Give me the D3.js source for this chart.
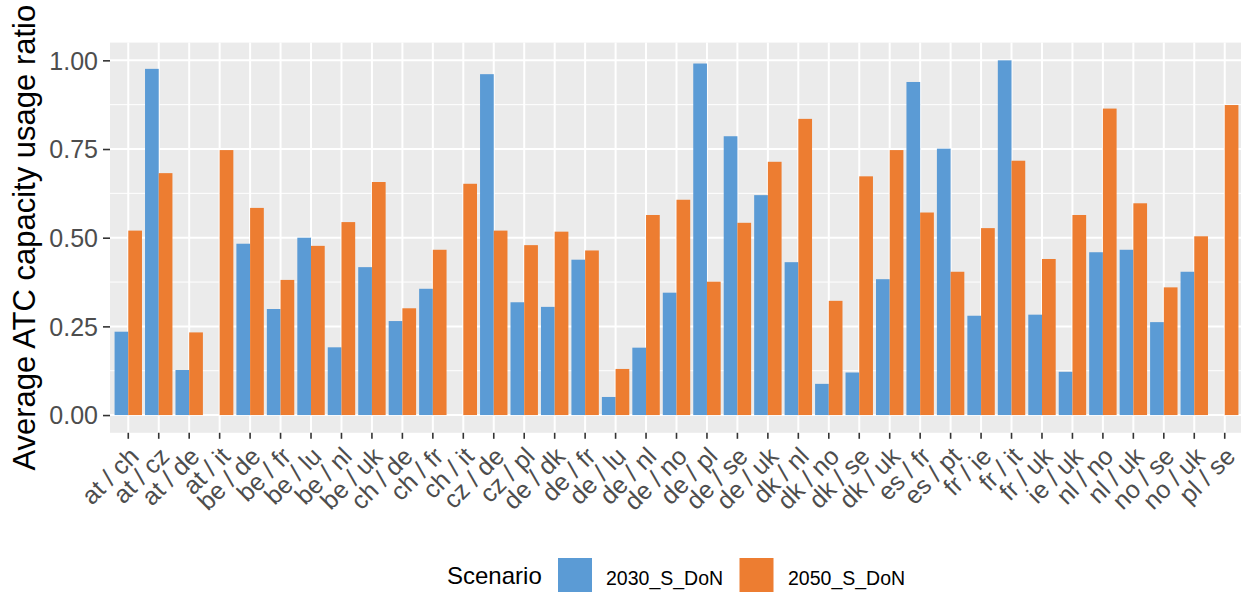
<!DOCTYPE html>
<html>
<head>
<meta charset="utf-8">
<script src="https://cdn.jsdelivr.net/npm/d3@7"></script>
<style>
  html, body { margin: 0; padding: 0; background: #ffffff; }
  svg { display: block; font-family: "Liberation Sans", Arial, Helvetica, sans-serif; }
</style>
</head>
<body>
<svg id="chart" width="1241" height="593"></svg>
<script>
// Border pairs (country / country)
const categories = [
  "at / ch", "at / cz", "at / de", "at / it", "be / de", "be / fr", "be / lu",
  "be / nl", "be / uk", "ch / de", "ch / fr", "ch / it", "cz / de", "cz / pl",
  "de / dk", "de / fr", "de / lu", "de / nl", "de / no", "de / pl", "de / se",
  "de / uk", "dk / nl", "dk / no", "dk / se", "dk / uk", "es / fr", "es / pt",
  "fr / ie", "fr / it", "fr / uk", "ie / uk", "nl / no", "nl / uk", "no / se",
  "no / uk", "pl / se"
];

// Scenario names
const scenarios = ["2030_S_DoN", "2050_S_DoN"];

// Average ATC capacity usage ratio per border, scenario 2030 (null = no link)
const values2030 = [
  0.235, 0.976, 0.127, null, 0.483, 0.299, 0.500,
  0.191, 0.417, 0.265, 0.356, null, 0.961, 0.318,
  0.305, 0.438, 0.051, 0.190, 0.345, 0.991, 0.786,
  0.620, 0.431, 0.088, 0.120, 0.383, 0.939, 0.751,
  0.280, 1.000, 0.283, 0.122, 0.459, 0.466, 0.262,
  0.404, null
];

// Average ATC capacity usage ratio per border, scenario 2050
const values2050 = [
  0.520, 0.682, 0.233, 0.747, 0.584, 0.381, 0.477,
  0.544, 0.657, 0.301, 0.466, 0.652, 0.520, 0.479,
  0.517, 0.464, 0.130, 0.564, 0.607, 0.376, 0.542,
  0.714, 0.835, 0.322, 0.673, 0.747, 0.571, 0.404,
  0.527, 0.717, 0.440, 0.564, 0.864, 0.597, 0.360,
  0.504, 0.874
];

const yTicks = [0, 0.25, 0.5, 0.75, 1.0];
const yMinorTicks = [0.125, 0.375, 0.625, 0.875];

const colors = { "2030_S_DoN": "#5B9BD5", "2050_S_DoN": "#ED7D31" };

const svg = d3.select("#chart");
const panel = { left: 110, right: 1243, top: 42.6, bottom: 432.8 };

const rows = categories.map((c, i) => ({
  category: c,
  values: [
    { scenario: scenarios[0], value: values2030[i] },
    { scenario: scenarios[1], value: values2050[i] }
  ]
}));

// Discrete x scale with 0.6 step expansion on both sides
const x = d3.scaleBand()
  .domain(categories)
  .range([panel.left, panel.right])
  .paddingInner(0)
  .paddingOuter(0.1);

const step = x.step();
const xSub = d3.scaleBand()
  .domain(scenarios)
  .range([-0.45 * step, 0.45 * step]);

const yMax = d3.max([...values2030, ...values2050].filter(v => v != null));
const yPad = yMax * 0.05;
const y = d3.scaleLinear()
  .domain([-yPad, yMax + yPad])
  .range([panel.bottom, panel.top]);

// Panel background
svg.append("rect")
  .attr("x", panel.left).attr("y", panel.top)
  .attr("width", panel.right - panel.left)
  .attr("height", panel.bottom - panel.top)
  .attr("fill", "#EBEBEB");

// Minor horizontal grid
svg.append("g")
  .selectAll("line")
  .data(yMinorTicks)
  .join("line")
  .attr("x1", panel.left).attr("x2", panel.right)
  .attr("y1", d => y(d)).attr("y2", d => y(d))
  .attr("stroke", "#ffffff").attr("stroke-width", 1);

// Major horizontal grid
svg.append("g")
  .selectAll("line")
  .data(yTicks)
  .join("line")
  .attr("x1", panel.left).attr("x2", panel.right)
  .attr("y1", d => y(d)).attr("y2", d => y(d))
  .attr("stroke", "#ffffff").attr("stroke-width", 2);

// Vertical grid at each border pair
svg.append("g")
  .selectAll("line")
  .data(categories)
  .join("line")
  .attr("x1", d => x(d) + x.bandwidth() / 2).attr("x2", d => x(d) + x.bandwidth() / 2)
  .attr("y1", panel.top).attr("y2", panel.bottom)
  .attr("stroke", "#ffffff").attr("stroke-width", 2);

// Bars
const groups = svg.append("g")
  .selectAll("g")
  .data(rows)
  .join("g")
  .attr("transform", d => `translate(${x(d.category) + x.bandwidth() / 2},0)`);

groups.selectAll("rect")
  .data(d => d.values.filter(v => v.value != null))
  .join("rect")
  .attr("x", d => xSub(d.scenario))
  .attr("width", xSub.bandwidth())
  .attr("y", d => y(Math.max(0, d.value)))
  .attr("height", d => Math.abs(y(d.value) - y(0)))
  .attr("fill", d => colors[d.scenario]);

// Y axis
const yAxis = svg.append("g")
  .attr("transform", `translate(${panel.left},0)`)
  .call(d3.axisLeft(y).tickValues(yTicks).tickFormat(d3.format(".2f")).tickSize(7).tickPadding(5));
yAxis.select(".domain").remove();
yAxis.selectAll(".tick line").attr("stroke", "#333333").attr("stroke-width", 1.6);
yAxis.selectAll(".tick text")
  .attr("fill", "#4D4D4D")
  .attr("font-size", 25)
  .attr("dy", "0.35em");

// X axis
const xAxis = svg.append("g")
  .attr("transform", `translate(0,${panel.bottom})`)
  .call(d3.axisBottom(x).tickSize(6).tickPadding(0));
xAxis.select(".domain").remove();
xAxis.selectAll(".tick line").attr("stroke", "#333333").attr("stroke-width", 1.6);
xAxis.selectAll(".tick text")
  .attr("fill", "#4D4D4D")
  .attr("font-size", 25)
  .attr("text-anchor", "end")
  .attr("dy", null)
  .attr("y", 0)
  .attr("transform", "translate(12,25) rotate(-45)");

// Y axis title
svg.append("text")
  .attr("transform", `translate(35,${(panel.top + panel.bottom) / 2}) rotate(-90)`)
  .attr("text-anchor", "middle")
  .attr("font-size", 31)
  .attr("fill", "#000000")
  .text("Average ATC capacity usage ratio");

// Legend
const legend = svg.append("g");
legend.append("text")
  .attr("x", 447).attr("y", 584)
  .attr("font-size", 24)
  .attr("fill", "#000000")
  .text("Scenario");

const legendKeys = [
  { scenario: scenarios[0], keyX: 557.5, textX: 606 },
  { scenario: scenarios[1], keyX: 739, textX: 788 }
];
legend.selectAll("rect")
  .data(legendKeys)
  .join("rect")
  .attr("x", d => d.keyX).attr("y", 557.5)
  .attr("width", 35).attr("height", 35)
  .attr("fill", d => colors[d.scenario])
  .attr("stroke", "#ffffff").attr("stroke-width", 1);
legend.selectAll("text.lab")
  .data(legendKeys)
  .join("text")
  .attr("class", "lab")
  .attr("x", d => d.textX).attr("y", 585)
  .attr("font-size", 19.5)
  .attr("fill", "#000000")
  .text(d => d.scenario);
</script>
</body>
</html>
